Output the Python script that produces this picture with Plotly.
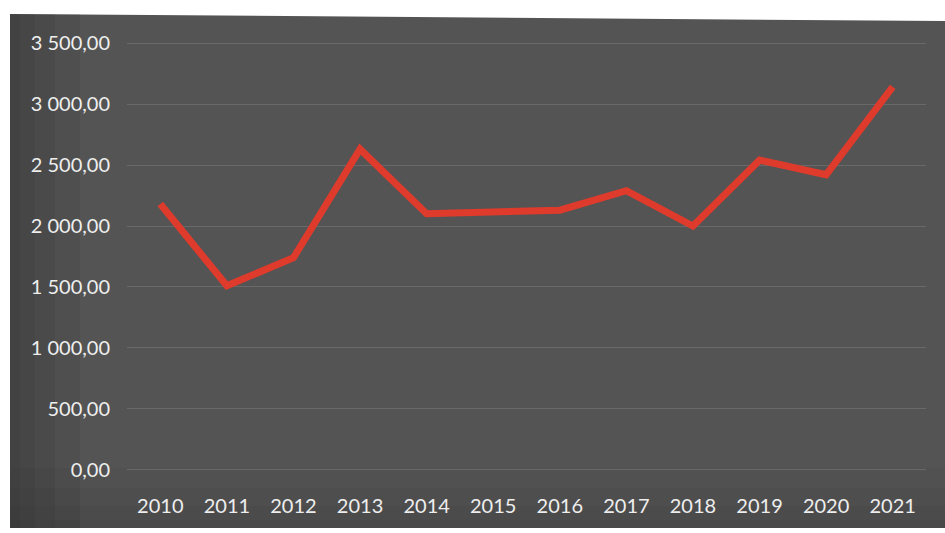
import plotly.graph_objects as go

# Annual values, 2010-2021
years = ["2010", "2011", "2012", "2013", "2014", "2015",
         "2016", "2017", "2018", "2019", "2020", "2021"]
values = [2180, 1510, 1740, 2630, 2100, 2120,
          2130, 2290, 2000, 2540, 2420, 3140]
y_ticks = [0, 500, 1000, 1500, 2000, 2500, 3000, 3500]

W, H = 945, 533
L, R, T, B = 127, 19, 41, 61
pw, ph = W - L - R, H - T - B


def px(x):
    return (x - L) / pw


def py(y):
    return (H - B - y) / ph


fig = go.Figure()
fig.add_trace(go.Scatter(
    x=years, y=values, mode="lines",
    line=dict(color="#df3b2c", width=7),
    hoverinfo="x+y",
))

# dark card behind the chart, slightly tilted at the top
card = "M {a},{b} L {c},{d} L {c},{e} L {a},{e} Z".format(
    a=px(10), b=py(14), c=px(945), d=py(21), e=py(528))
shapes = [dict(type="path", path=card, xref="paper", yref="paper",
               fillcolor="#545454", line=dict(width=0), layer="below")]

# darker shading towards the left and bottom edges of the card
for w in [70, 45, 25, 10]:
    shapes.append(dict(type="rect", xref="paper", yref="paper",
                       x0=px(10), x1=px(10 + w), y0=py(528), y1=py(14),
                       fillcolor="#2a2a2a", opacity=0.10,
                       line=dict(width=0), layer="below"))
for h in [60, 40, 22, 8]:
    shapes.append(dict(type="rect", xref="paper", yref="paper",
                       x0=px(10), x1=px(945), y0=py(528), y1=py(528 - h),
                       fillcolor="#2a2a2a", opacity=0.06,
                       line=dict(width=0), layer="below"))

fig.update_layout(
    width=W, height=H,
    margin=dict(l=L, r=R, t=T, b=B),
    paper_bgcolor="white",
    plot_bgcolor="rgba(0,0,0,0)",
    separators=", ",
    showlegend=False,
    shapes=shapes,
    font=dict(family="Lato", size=20, color="#eeeeee"),
    xaxis=dict(
        type="category", range=[-0.5, 11.5],
        showgrid=False, showline=False, ticks="",
        ticklabelstandoff=20,
    ),
    yaxis=dict(
        range=[-17, 3517], tickvals=y_ticks, tickformat=",.2f",
        showgrid=True, gridcolor="#696969", gridwidth=1,
        zeroline=False, showline=False, ticks="",
        ticklabelstandoff=16,
    ),
)

fig.write_html("out.html")
